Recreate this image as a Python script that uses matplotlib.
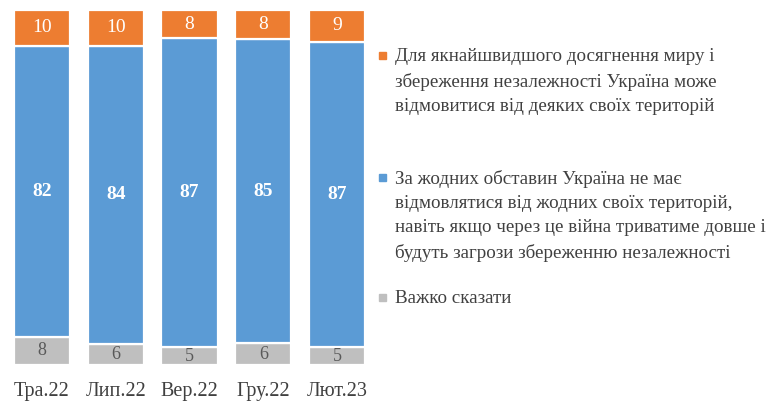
import numpy as np
import matplotlib.pyplot as plt
from matplotlib.patches import Rectangle

plt.rcParams["font.family"] = ["Liberation Serif", "DejaVu Serif"]

periods = ["Тра.22", "Лип.22", "Вер.22", "Гру.22", "Лют.23"]
refuse_none = [82, 84, 87, 85, 87]
give_up_some = [10, 10, 8, 8, 9]
hard_to_say = [8, 6, 5, 6, 5]

legend_labels = [
    "Для якнайшвидшого досягнення миру і\nзбереження незалежності Україна може\nвідмовитися від деяких своїх територій",
    "За жодних обставин Україна не має\nвідмовлятися від жодних своїх територій,\nнавіть якщо через це війна триватиме довше і\nбудуть загрози збереженню незалежності",
    "Важко сказати",
]

c_orange = "#ED7D31"
c_blue = "#5B9BD5"
c_grey = "#BFBFBF"

bottom_vals = np.array(hard_to_say, dtype=float)
mid_vals = np.array(refuse_none, dtype=float)
top_vals = np.array(give_up_some, dtype=float)
total = bottom_vals + mid_vals + top_vals  # 100% stacked
b_share = bottom_vals / total
m_share = mid_vals / total
t_share = top_vals / total

fig = plt.figure(figsize=(7.8, 4.12), dpi=100)
ax = fig.add_axes([5 / 780, 47 / 412, 369 / 780, 355 / 412])
x = np.arange(len(periods))
w = 0.76
kw = dict(width=w, edgecolor="white", linewidth=1.6)
ax.bar(x, b_share, color=c_grey, **kw)
ax.bar(x, m_share, bottom=b_share, color=c_blue, **kw)
ax.bar(x, t_share, bottom=b_share + m_share, color=c_orange, **kw)

for i in range(len(periods)):
    ax.text(x[i], b_share[i] / 2, f"{hard_to_say[i]}", ha="center", va="center",
            color="#595959", fontsize=13)
    ax.text(x[i], b_share[i] + m_share[i] / 2, f"{refuse_none[i]}", ha="center",
            va="center", color="white", fontsize=14, fontweight="bold")
    ax.text(x[i], b_share[i] + m_share[i] + t_share[i] / 2, f"{give_up_some[i]}",
            ha="center", va="center", color="white", fontsize=14)

ax.set_xlim(-0.5, len(periods) - 0.5)
ax.set_ylim(0, 1)
ax.set_xticks(x)
ax.set_xticklabels(periods, fontsize=14.5, color="#404040")
ax.tick_params(axis="x", length=0, pad=12)
ax.set_yticks([])
for s in ax.spines.values():
    s.set_visible(False)

# legend drawn manually to follow the reference layout
leg_colors = [c_orange, c_blue, c_grey]
leg_y = [55, 177, 297]
for col, lab, y in zip(leg_colors, legend_labels, leg_y):
    fig.patches.append(Rectangle((379 / 780, 1 - (y + 4) / 412), 7 / 780, 7 / 412,
                                 transform=fig.transFigure, color=col))
    fig.text(395 / 780, 1 - (y - 7) / 412, lab, ha="left", va="top", fontsize=13.7,
             color="#404040", linespacing=1.55)

fig.savefig("out.png", dpi=100)
